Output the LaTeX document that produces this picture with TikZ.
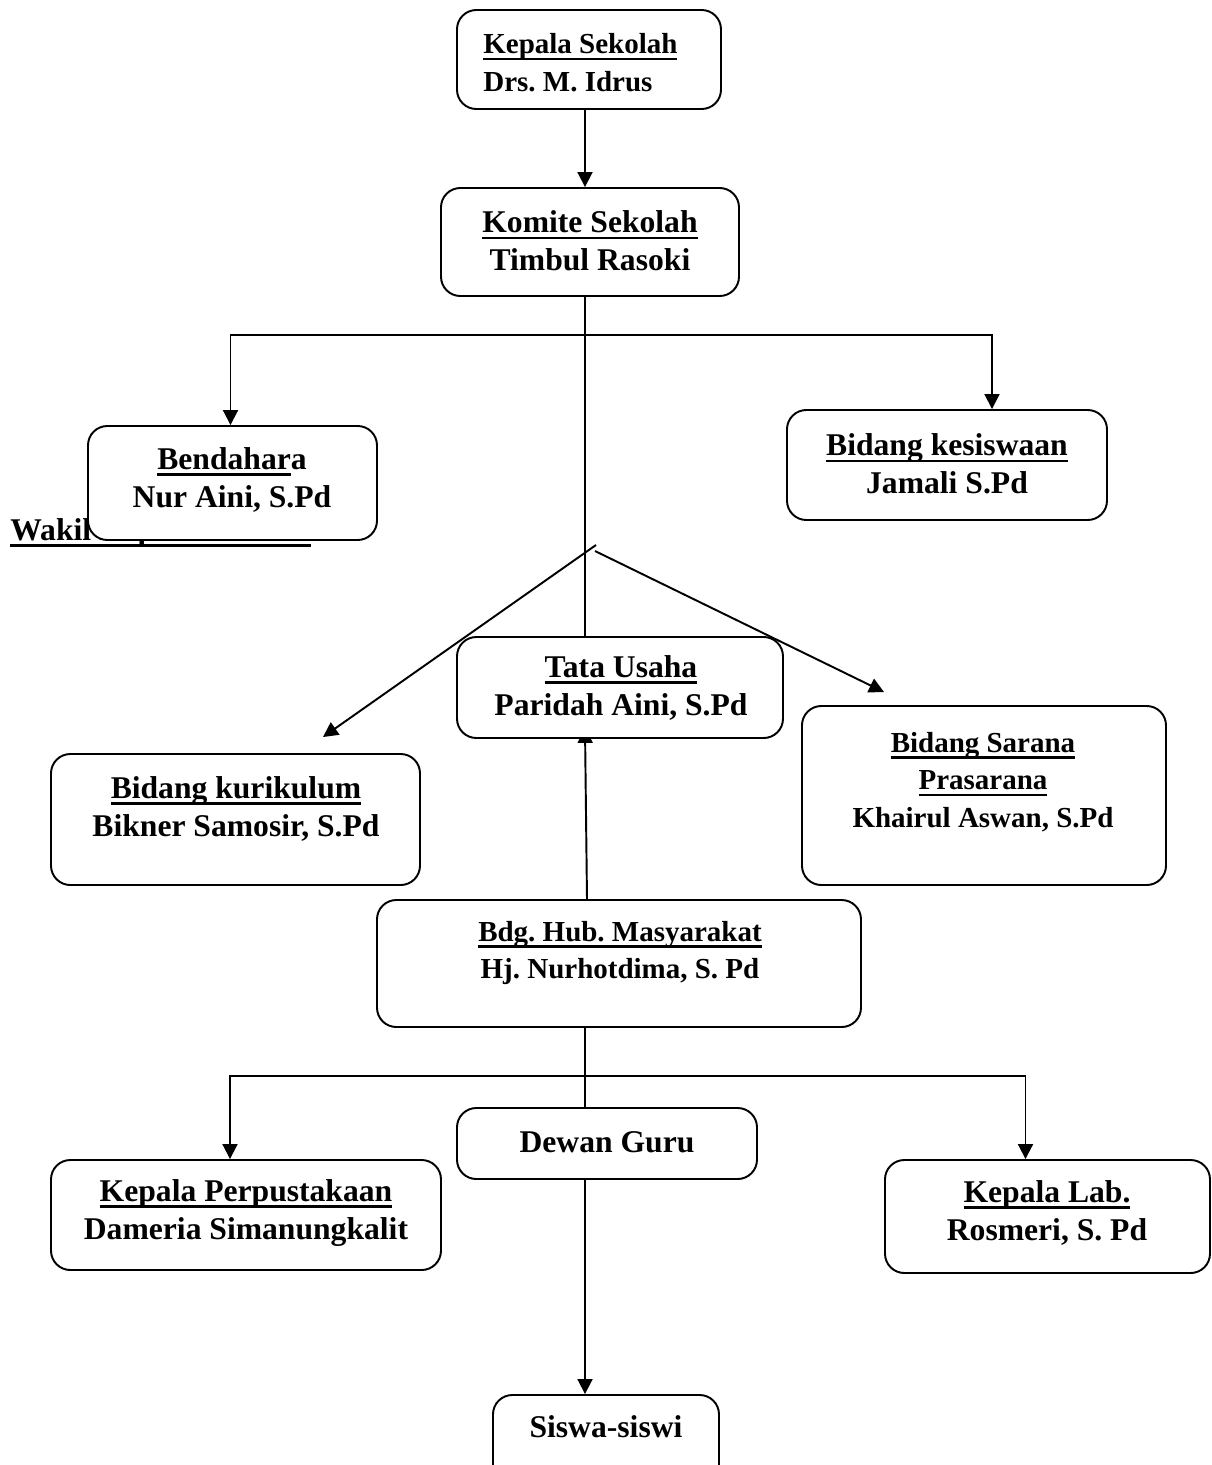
\documentclass[tikz,border=0pt]{standalone}
\usepackage{fontspec}
\setmainfont{Liberation Serif}
\frenchspacing
\newcommand{\myul}[1]{\setbox0\hbox{#1}\rlap{\vrule width\wd0 height -2.1pt depth 3.7pt}\box0}
\usetikzlibrary{arrows.meta,fit,backgrounds,calc}

\begin{document}
\begin{tikzpicture}[x=0.02cm,y=-0.02cm,
  box/.style={draw, line width=1.1pt, rounded corners=11pt, fill=white, inner sep=0pt},
  txt/.style={font=\bfseries\fontsize{18pt}{21.5pt}\selectfont, align=center, inner sep=0pt},
  stxt/.style={font=\bfseries\fontsize{16.5pt}{21.5pt}\selectfont, align=center, inner sep=0pt},
  conn/.style={line width=1.1pt},
  arr/.style={conn, -{Triangle[length=8.5pt,width=8.5pt]}}]
\useasboundingbox (0,0) rectangle (1212,1465);

% boxes
\node[box, fit={(457,10)(721,109)}] (kepala) {};
\node[box, fit={(441,188)(739,296)}] (komite) {};
\node[box, fit={(88,426)(377,540)}] (bend) {};
\node[box, fit={(787,410)(1107,520)}] (kes) {};
\node[box, fit={(457,637)(783,738)}] (tata) {};
\node[box, fit={(51,754)(420,885)}] (kur) {};
\node[box, fit={(802,706)(1166,885)}] (sar) {};
\node[box, fit={(377,900)(861,1027)}] (hub) {};
\node[box, fit={(457,1108)(757,1179)}] (dewan) {};
\node[box, fit={(51,1160)(441,1270)}] (perp) {};
\node[box, fit={(885,1160)(1210,1273)}] (lab) {};
\node[box, fit={(493,1395)(719,1490)}] (siswa) {};

% texts
\node[stxt, align=left, anchor=west] (kepalat) at (483,63) {\myul{Kepala Sekolah}\\Drs. M. Idrus};
\node[txt] (komitet) at (590,241) {\myul{Komite Sekolah}\\Timbul Rasoki};
\node[txt] (bendt) at (232,480) {\myul{Bendahar}a\\Nur Aini, S.Pd};
\node[txt] (kest) at (947,464) {\myul{Bidang kesiswaan}\\Jamali S.Pd};
\node[txt] (tatat) at (621,688) {\myul{Tata Usaha}\\Paridah Aini, S.Pd};
\node[txt] (kurt) at (236,809) {\myul{Bidang kurikulum}\\Bikner Samosir, S.Pd};
\node[stxt] (sart) at (983,782) {\myul{Bidang Sarana}\\\myul{Prasarana}\\Khairul Aswan, S.Pd};
\node[stxt] (hubt) at (620,953) {\myul{Bdg. Hub. Masyarakat}\\Hj. Nurhotdima, S. Pd};
\node[txt] (dewant) at (607,1142) {Dewan Guru};
\node[txt] (perpt) at (246,1213) {\myul{Kepala Perpustakaan}\\Dameria Simanungkalit};
\node[txt] (labt) at (1047,1213) {\myul{Kepala Lab.}\\Rosmeri, S. Pd};
\node[txt] (siswat) at (606,1427) {Siswa-siswi};

% spine and branch points
\coordinate (sx) at (585,0);
\coordinate (b1) at (585,335);
\coordinate (b2) at (585,1076);
\coordinate (d1) at (596,545);
\coordinate (d2) at (595,551);

\begin{scope}[on background layer]
  \node[txt, anchor=base west] (wakil) at (10,540) {\myul{Wakil Kepala Sekolah}};
  \draw[arr] ($(hub.north -| sx)+(2,0)$) -- ($(tata.south -| sx)+(0,-11)$);
\end{scope}

% connectors
\draw[arr] (kepala.south -| sx) -- (komite.north -| sx);
\draw[conn] (komite.south -| sx) -- (tata.north -| sx);
\draw[arr] (b1) -| ($(bend.north)+(-2,0)$);
\draw[arr] (b1) -| ($(kes.north)+(45,0)$);
\draw[arr] (d1) -- ($(kur.north east)+(-98,-16)$);
\draw[arr] (d2) -- ($(sar.north west)+(83,-13)$);
\draw[conn] (hub.south -| sx) -- (dewan.north -| sx);
\draw[arr] (b2) -| ($(perp.north)+(-16,0)$);
\draw[arr] (b2) -| ($(lab.north)+(-22,0)$);
\draw[arr] (dewan.south -| sx) -- (siswa.north -| sx);
\end{tikzpicture}
\end{document}
